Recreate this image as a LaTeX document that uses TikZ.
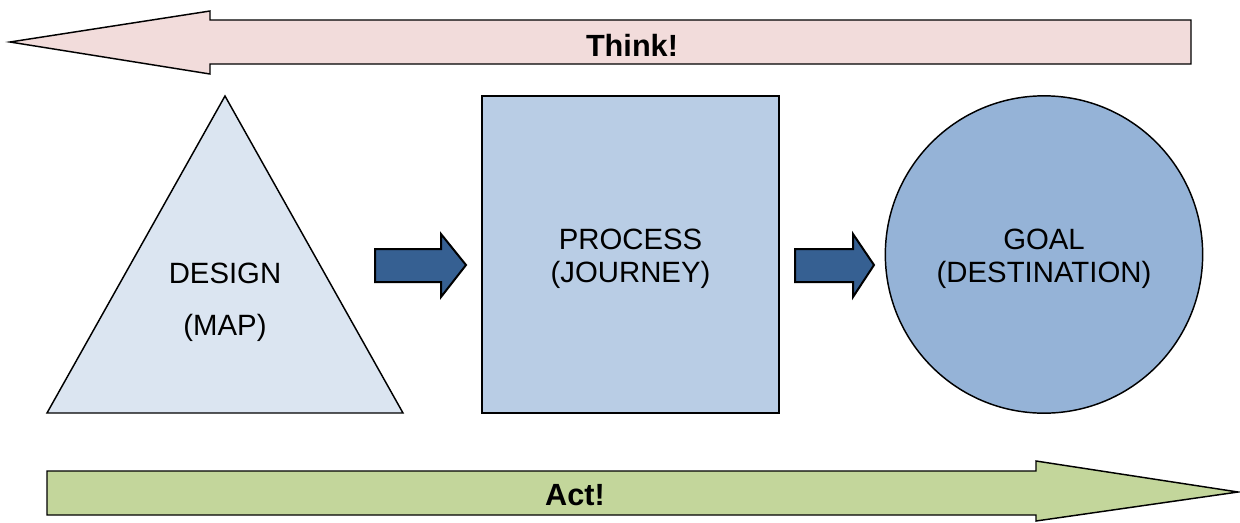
\documentclass[tikz,border=0pt]{standalone}
\usepackage{fontspec}
\setmainfont{Liberation Sans}
\usetikzlibrary{positioning}
\definecolor{thinkpink}{HTML}{F2DCDB}
\definecolor{actgreen}{HTML}{C3D69B}
\definecolor{mapblue}{HTML}{DBE5F1}
\definecolor{journeyblue}{HTML}{B9CDE5}
\definecolor{goalblue}{HTML}{95B3D7}
\definecolor{linkblue}{HTML}{366092}

\begin{document}
\begin{tikzpicture}[
  x=0.75pt,y=-0.75pt,
  outline/.style={draw=black,line width=1.1pt,line join=miter},
  stagetext/.style={align=center,font=\fontsize{22}{25}\selectfont},
  banner/.style={font=\bfseries\fontsize{23}{27}\selectfont},
  link/.style={draw=black,fill=linkblue,line width=1.5pt,line join=miter}
]
\useasboundingbox (0,0) rectangle (1240,522);

% think / act banners
\path[outline,fill=thinkpink] (10,42) -- (210,11) -- (210,20) -- (1191,20)
  -- (1191,64) -- (210,64) -- (210,74) -- cycle;
\node[banner] (think) at (632,45) {Think!};
\path[outline,fill=actgreen] (47,471) -- (1036,471) -- (1036,461) -- (1238,492)
  -- (1036,521) -- (1036,515) -- (47,515) -- cycle;
\node[banner] (act) at (575,495) {Act!};

% the three stages
\path[outline,fill=mapblue] (225,96) -- (403,413) -- (47,413) -- cycle;
\node[stagetext] (design) at (225,302) {DESIGN\\[14pt](MAP)};
\node[outline,fill=journeyblue,stagetext,minimum width=222.75pt,minimum height=237.75pt]
  (process) at (630.5,254.5) {\rule{0pt}{22pt}PROCESS\\(JOURNEY)};
\node[outline,fill=goalblue,circle,stagetext,minimum size=238pt]
  (goal) at (1044,254.5) {\rule{0pt}{22pt}GOAL\\(DESTINATION)};

% links between stages
\path[link] (375,249) -- (441,249) -- (441,234) -- (466,265) -- (441,297)
  -- (441,282) -- (375,282) -- cycle;
\path[link] (795,249) -- (853,249) -- (853,234) -- (874,265) -- (853,297)
  -- (853,282) -- (795,282) -- cycle;
\end{tikzpicture}
\end{document}
